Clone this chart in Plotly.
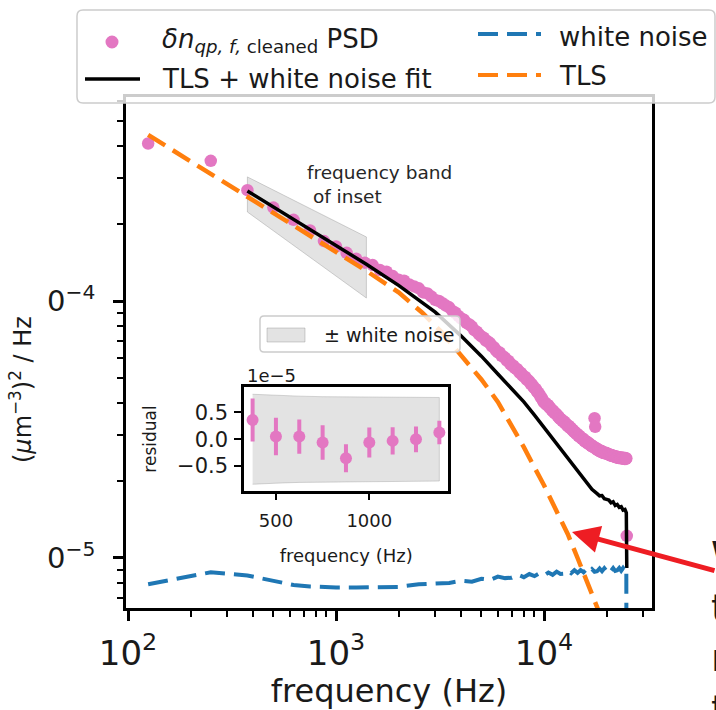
import plotly.graph_objects as go

SCALE = 1e-5  # spectral values below are stored in units of 1e-5

# ---- PSD of the cleaned quasiparticle density (125 Hz bins up to 25 kHz) ----
psd_freq = [125 * k for k in range(1, 201)]
psd_vals = [
    41.0, 35.1, 27.0, 23.1, 20.7, 18.8, 17.1, 16.3, 15.4, 14.6, 14.1,
    13.8, 13.2, 13.0, 12.5, 12.1, 12.0, 11.6, 11.4, 11.2, 10.8, 10.7, 10.4,
    10.1, 10.0, 9.8, 9.6, 9.45, 9.15, 9.0, 8.75, 8.55, 8.45, 8.2, 8.1,
    7.95, 7.7, 7.6, 7.42, 7.28, 7.2, 7.02, 6.95, 6.85, 6.66, 6.6, 6.43,
    6.32, 6.3, 6.12, 6.08, 6.0, 5.87, 5.84, 5.7, 5.62, 5.6, 5.48, 5.45,
    5.38, 5.27, 5.25, 5.14, 5.08, 5.06, 4.95, 4.92, 4.86, 4.76, 4.74, 4.64,
    4.58, 4.55, 4.44, 4.4, 4.34, 4.23, 4.2, 4.1, 4.03, 4.02, 3.95, 3.95,
    3.92, 3.85, 3.83, 3.77, 3.74, 3.72, 3.66, 3.65, 3.62, 3.57, 3.55, 3.5,
    3.47, 3.46, 3.42, 3.41, 3.39, 3.34, 3.34, 3.29, 3.27, 3.27, 3.22, 3.22,
    3.2, 3.16, 3.15, 3.11, 3.09, 3.09, 3.05, 3.04, 3.03, 2.99, 2.99, 2.96,
    2.94, 2.94, 2.91, 2.9, 2.9, 2.86, 2.86, 2.83, 2.82, 2.83, 2.79, 2.79,
    2.79, 2.76, 2.76, 2.73, 2.72, 2.73, 2.7, 2.7, 3.50, 3.24, 2.68, 2.65,
    2.66, 2.63, 2.64, 2.62, 2.61, 2.62, 2.59, 2.6, 2.6, 2.57, 2.58, 2.56,
    2.57, 2.56, 2.57, 2.55, 2.56, 2.54, 2.54, 2.53, 2.53, 2.53, 2.51, 2.52,
    2.51, 2.5, 2.51, 2.49, 2.5, 2.49, 2.49, 2.48, 2.48, 2.47, 2.48, 2.46,
    2.47, 2.46, 2.47, 2.45, 2.46, 2.45, 2.46, 2.45, 2.45, 2.44, 2.46, 2.44,
    2.45, 2.44, 2.45, 2.43, 2.44, 2.45, 2.43, 2.44, 1.22,
]

# ---- TLS + white noise fit ----
fit_freq = [375, 500, 700, 1000, 1400, 2000, 3000, 4000, 5000, 6000, 7000,
            8000, 9000, 10000, 11000, 12000, 13000, 14000, 15000, 16000,
            17000, 18000, 18500, 19000, 19500, 20000, 20500, 21000, 21500,
            22000, 22500, 23000, 23500, 24000, 24500, 24875, 25000]
fit_vals = [26.8, 23.2, 19.6, 16.4, 13.9, 11.5, 9.05, 7.3, 6.1, 5.2, 4.56,
            4.05, 3.6, 3.22, 2.92, 2.66, 2.44, 2.25, 2.09, 1.95,
            1.85, 1.78, 1.745, 1.75, 1.70, 1.69, 1.68, 1.64, 1.655,
            1.60, 1.615, 1.575, 1.585, 1.535, 1.545, 1.50, 0.914]

# ---- TLS component ----
tls_freq = [125, 200, 300, 500, 700, 1000, 1400, 2000, 2600, 3200, 4000,
            5000, 6000, 7000, 8000, 9000, 10000, 11500, 13000, 14500,
            16000, 17500, 20000, 22500, 25000]
tls_vals = [44.3, 35.0, 28.6, 22.1, 18.7, 15.6, 13.1, 10.8, 9.0, 7.6, 6.15,
            4.95, 4.05, 3.28, 2.7, 2.25, 1.92, 1.52, 1.24, 1.0,
            0.82, 0.69, 0.52, 0.41, 0.33]

# ---- white noise component ----
wn_freq = [125, 250, 375, 500, 625, 750, 875, 1000, 1250, 1500, 1750, 2000,
           2500, 3000, 3500, 4000, 4500, 5000, 5500, 6000, 6500, 7000, 7500,
           8000, 8500, 9000, 9500, 10000, 10500, 11000, 11500, 12000, 12500,
           13000, 13500, 14000, 14500, 15000, 15500, 16000, 16500, 17000,
           17500, 18000, 18500, 19000, 19500, 20000, 20500, 21000, 21500,
           22000, 22500, 23000, 23500, 24000, 24500, 24875, 25000]
wn_vals = [0.79, 0.88, 0.855, 0.815, 0.785, 0.775, 0.77, 0.768, 0.768, 0.77,
           0.77, 0.772, 0.79, 0.795, 0.800, 0.815, 0.808, 0.830, 0.822, 0.846,
           0.835, 0.838, 0.860, 0.842, 0.866, 0.850, 0.872, 0.855, 0.878,
           0.860, 0.885, 0.866, 0.868, 0.892, 0.872, 0.896, 0.875, 0.898,
           0.880, 0.903, 0.882, 0.905, 0.884, 0.888, 0.910, 0.888, 0.912,
           0.889, 0.913, 0.891, 0.913, 0.890, 0.895, 0.914, 0.892, 0.914,
           0.894, 0.91, 0.02]

# ---- shaded frequency band used in the inset ----
band_freq = [375, 1400]
band_upper = [30.4, 17.75]
band_lower = [22.2, 10.27]

# ---- inset: fit residuals ----
res_freq = [375, 500, 625, 750, 875, 1000, 1125, 1250, 1375]
res_vals = [0.36, 0.05, 0.05, -0.06, -0.355, -0.06, -0.03, 0.0, 0.125]
res_err = [0.40, 0.35, 0.32, 0.32, 0.26, 0.28, 0.255, 0.24, 0.22]
res_wn = [0.84, 0.82, 0.805, 0.795, 0.79, 0.787, 0.785, 0.782, 0.78]

x_ticks = [100, 1000, 10000]
x_ticktext = ["10<sup>2</sup>", "10<sup>3</sup>", "10<sup>4</sup>"]
y_ticks = [1e-5, 1e-4]
y_ticktext = ["10<sup>\u22125</sup>", "10<sup>\u22124</sup>"]

PINK, BLUE, ORANGE = "#e377c2", "#1f77b4", "#ff7f0e"
FONT = "DejaVu Sans"
INK = "#1a1a1a"

W, H = 716, 710
L, R, T, B = 126, 652, 97, 608  # main plot area in pixels


def px(x):
    return (x - L) / (R - L)


def py(y):
    return (B - y) / (B - T)


def rrect(x0, y0, x1, y1, r):
    p = lambda x, y: f"{px(x):.5f},{py(y):.5f}"
    return (f"M{p(x0 + r, y0)} L{p(x1 - r, y0)} Q{p(x1, y0)} {p(x1, y0 + r)} "
            f"L{p(x1, y1 - r)} Q{p(x1, y1)} {p(x1 - r, y1)} L{p(x0 + r, y1)} "
            f"Q{p(x0, y1)} {p(x0, y1 - r)} L{p(x0, y0 + r)} Q{p(x0, y0)} {p(x0 + r, y0)} Z")


sc = lambda vals: [v * SCALE for v in vals]
DASH = "20px,9px"

fig = go.Figure()

# shaded band marking the inset frequency range
fig.add_trace(go.Scatter(
    x=band_freq + band_freq[::-1] + band_freq[:1],
    y=sc(band_upper + band_lower[::-1] + band_upper[:1]),
    mode="lines", fill="toself", fillcolor="rgba(128,128,128,0.22)",
    line=dict(color="rgba(128,128,128,0.35)", width=1), hoverinfo="skip"))

fig.add_trace(go.Scatter(x=psd_freq, y=sc(psd_vals), mode="markers",
                         marker=dict(color=PINK, size=12.5, line=dict(width=0)),
                         name="PSD"))
fig.add_trace(go.Scatter(x=fit_freq, y=sc(fit_vals), mode="lines",
                         line=dict(color="black", width=3.5), name="fit"))
fig.add_trace(go.Scatter(x=wn_freq, y=sc(wn_vals), mode="lines",
                         line=dict(color=BLUE, width=4, dash=DASH), name="white noise"))
fig.add_trace(go.Scatter(x=tls_freq, y=sc(tls_vals), mode="lines",
                         line=dict(color=ORANGE, width=4.5, dash=DASH), name="TLS"))

# inset: +/- white noise band and residuals
fig.add_trace(go.Scatter(
    x=res_freq + res_freq[::-1],
    y=res_wn + [-v for v in res_wn[::-1]],
    mode="lines", fill="toself", fillcolor="rgba(128,128,128,0.22)",
    line=dict(color="rgba(128,128,128,0.3)", width=1),
    xaxis="x2", yaxis="y2", hoverinfo="skip"))
fig.add_trace(go.Scatter(
    x=res_freq, y=res_vals, mode="markers", xaxis="x2", yaxis="y2",
    marker=dict(color=PINK, size=12, line=dict(width=0)),
    error_y=dict(type="data", array=res_err, color=PINK, thickness=4, width=0)))

minor_x = [m * 10 ** e for e in (2, 3, 4) for m in range(2, 10)]
minor_y = [m * 10.0 ** e for e in (-6, -5, -4) for m in range(2, 10)]

axis_common = dict(showgrid=False, zeroline=False, showline=True, linecolor="black",
                   linewidth=2.5, mirror=True, ticks="outside", tickcolor="black",
                   automargin=False)

fig.update_layout(
    width=W, height=H,
    margin=dict(l=L, r=W - R, t=T, b=H - B, autoexpand=False),
    paper_bgcolor="white", plot_bgcolor="white",
    showlegend=False,
    font=dict(family=FONT, color=INK),
    xaxis=dict(type="log", range=[1.9904, 4.5192], tickvals=x_ticks, ticktext=x_ticktext,
               ticklen=10, tickwidth=2.5, tickfont=dict(size=34, color=INK),
               ticklabelstandoff=3,
               minor=dict(tickvals=minor_x, ticks="outside", ticklen=6, tickwidth=2,
                          tickcolor="black", showgrid=False),
               title=dict(text="frequency (Hz)", font=dict(size=32, color=INK), standoff=11),
               **axis_common),
    yaxis=dict(type="log", range=[-5.1946, -3.2062], tickvals=y_ticks, ticktext=y_ticktext,
               ticklen=10, tickwidth=2.5, tickfont=dict(size=29, color=INK),
               ticklabelstandoff=12,
               minor=dict(tickvals=minor_y, ticks="outside", ticklen=6, tickwidth=2,
                          tickcolor="black", showgrid=False),
               **axis_common),
    xaxis2=dict(domain=[px(244), px(448.3)], anchor="y2", range=[329, 1423],
                tickvals=[500, 1000], ticklen=7, tickwidth=2,
                tickfont=dict(size=18, color=INK), ticklabelstandoff=5,
                title=dict(text="frequency (Hz)", font=dict(size=18, color=INK), standoff=20),
                **axis_common),
    yaxis2=dict(domain=[py(490.7), py(387.3)], anchor="x2", range=[-0.96, 0.97],
                tickvals=[-0.5, 0, 0.5], tickformat=".1f", ticklen=7, tickwidth=2,
                tickfont=dict(size=21, color=INK), ticklabelstandoff=2,
                title=dict(text="residual", font=dict(size=17, color=INK), standoff=17),
                **axis_common),
)

shapes = [
    # zero line of the residual inset
    dict(type="line", xref="x2 domain", yref="y2", x0=0, x1=1, y0=0, y1=0,
         line=dict(color="#7f7f7f", width=3), layer="below"),
    # blank strip at the left edge (cropped tick labels)
    dict(type="rect", xref="paper", yref="paper", x0=px(-10), x1=px(46),
         y0=py(620), y1=py(250), fillcolor="white", line=dict(width=0), layer="above"),
    # main legend frame
    dict(type="path", xref="paper", yref="paper", path=rrect(77, 10, 715, 103, 6),
         fillcolor="rgba(255,255,255,0.8)", line=dict(color="#cccccc", width=1.5),
         layer="above"),
    dict(type="circle", xref="paper", yref="paper",
         x0=px(105.5), x1=px(118.5), y0=py(48.5), y1=py(35.5),
         fillcolor=PINK, line=dict(width=0), layer="above"),
    dict(type="line", xref="paper", yref="paper", x0=px(85), x1=px(140), y0=py(79), y1=py(79),
         line=dict(color="black", width=3.5), layer="above"),
    dict(type="line", xref="paper", yref="paper", x0=px(478), x1=px(541), y0=py(34), y1=py(34),
         line=dict(color=BLUE, width=4, dash=DASH), layer="above"),
    dict(type="line", xref="paper", yref="paper", x0=px(478), x1=px(541), y0=py(75), y1=py(75),
         line=dict(color=ORANGE, width=4, dash=DASH), layer="above"),
    # inset legend frame and patch
    dict(type="path", xref="paper", yref="paper", path=rrect(260, 316, 460, 352, 4),
         fillcolor="rgba(255,255,255,0.8)", line=dict(color="#cccccc", width=1.5),
         layer="above"),
    dict(type="rect", xref="paper", yref="paper", x0=px(267), x1=px(305), y0=py(342), y1=py(328),
         fillcolor="rgba(128,128,128,0.22)", line=dict(color="rgba(128,128,128,0.35)", width=1),
         layer="above"),
]

ann = lambda x, y, text, size, **kw: dict(
    x=px(x), y=py(y), xref="paper", yref="paper", text=text, showarrow=False,
    font=dict(size=size, color=kw.pop("color", INK), family=FONT),
    xanchor=kw.pop("xanchor", "left"), yanchor=kw.pop("yanchor", "middle"), **kw)

annotations = [
    ann(160, 40, "<i>\u03b4n</i><sub><i>qp, f,</i> cleaned</sub> PSD", 26),
    ann(160, 79, "TLS + white noise fit", 26),
    ann(557, 37, "white noise", 26),
    ann(557, 76, "TLS", 26),
    ann(322, 335, "\u00b1 white noise", 19),
    ann(21, 390, "(<i>\u03bc</i>m<sup>\u22123</sup>)<sup>2</sup> / Hz", 24,
        xanchor="center", textangle=-90),
    ann(245, 375, "1e\u22125", 18),
    ann(305, 184, "frequency band<br>\u00a0of inset", 18.5, color="#262626", align="left"),
    # arrow pointing at the TLS roll-off
    dict(x=px(572), y=py(532), xref="paper", yref="paper", text="", showarrow=True,
         ax=168, ay=39, arrowcolor="#ee1d23", arrowwidth=5, arrowhead=2, arrowsize=1.1,
         standoff=0),
    # start of slide text on the right edge
    ann(709, 555, "W", 38),
    ann(709, 608, "t", 38),
    ann(709, 658, "r", 38),
    ann(709, 709, "t", 38),
]

fig.update_layout(shapes=shapes, annotations=annotations)
fig.write_html("out.html")
